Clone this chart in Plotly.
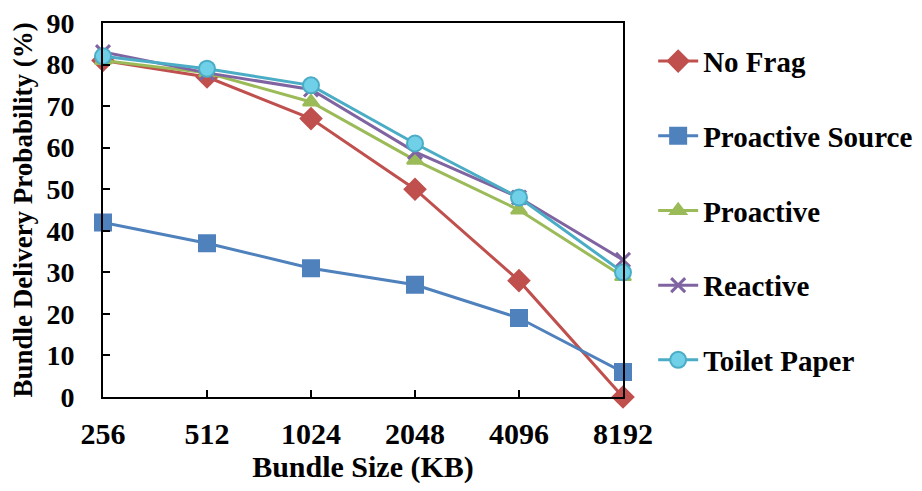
import plotly.graph_objects as go

categories = ["256", "512", "1024", "2048", "4096", "8192"]
no_frag = [81, 77, 67, 50, 28, 0]
proactive_source = [42, 37, 31, 27, 19, 6]
proactive = [81, 78, 71, 57, 45, 29]
reactive = [83, 78, 74, 59, 48, 33]
toilet_paper = [82, 79, 75, 61, 48, 30]

series = [
    ("No Frag", no_frag, "#C0504D", "diamond", 16, "#C0504D"),
    ("Proactive Source", proactive_source, "#4F81BD", "square", 16, "#4F81BD"),
    ("Proactive", proactive, "#9BBB59", "triangle-up", 14, "#9BBB59"),
    ("Reactive", reactive, "#8064A2", "x-thin", 14, "#8064A2"),
    ("Toilet Paper", toilet_paper, "#4BACC6", "circle", 16, "#6FD0E8"),
]

fig = go.Figure()
for i, (name, vals, color, sym, size, fill) in enumerate(series):
    marker = dict(symbol=sym, size=size, color=fill, line=dict(color=color, width=2))
    if sym == "x-thin":
        marker = dict(symbol=sym, size=size, color=color, line=dict(color=color, width=3))
    fig.add_trace(go.Scatter(
        x=categories, y=vals, name=name, mode="lines+markers",
        line=dict(color=color, width=3), marker=marker,
        cliponaxis=False, legendgroup=f"g{i}",
    ))

font_family = "Liberation Serif, Times New Roman, serif"
fig.update_layout(
    width=922, height=491,
    margin=dict(l=95, r=304, t=15, b=102),
    plot_bgcolor="white", paper_bgcolor="white",
    font=dict(family=font_family, size=27, color="black"),
    showlegend=True,
    legend=dict(
        x=1.058, xanchor="left", xref="paper", y=0.966, yanchor="top",
        font=dict(family=font_family, size=29, color="black", weight="bold"),
        tracegroupgap=34, traceorder="grouped",
        itemwidth=40, bgcolor="rgba(0,0,0,0)",
    ),
    xaxis=dict(
        type="category", range=[0, 5], automargin=False,
        showline=True, linecolor="black", linewidth=2, mirror=True,
        ticks="inside", ticklen=7, tickwidth=2, tickcolor="black",
        showgrid=False, zeroline=False, ticklabeloverflow="allow",
        tickfont=dict(family=font_family, size=30, weight="bold"),
        ticklabelstandoff=9,
        title=dict(text="<b>Bundle Size (KB)</b>", font=dict(family=font_family, size=30), standoff=6),
    ),
    yaxis=dict(
        range=[0, 90], dtick=10, automargin=False,
        showline=True, linecolor="black", linewidth=2, mirror=True,
        ticks="inside", ticklen=7, tickwidth=2, tickcolor="black",
        showgrid=False, zeroline=False, ticklabeloverflow="allow",
        tickfont=dict(family=font_family, size=28, weight="bold"),
        ticklabelstandoff=21,
        title=dict(text="<b>Bundle Delivery Probability (%)</b>", font=dict(family=font_family, size=27), standoff=8),
    ),
)

fig.write_html("out.html")
